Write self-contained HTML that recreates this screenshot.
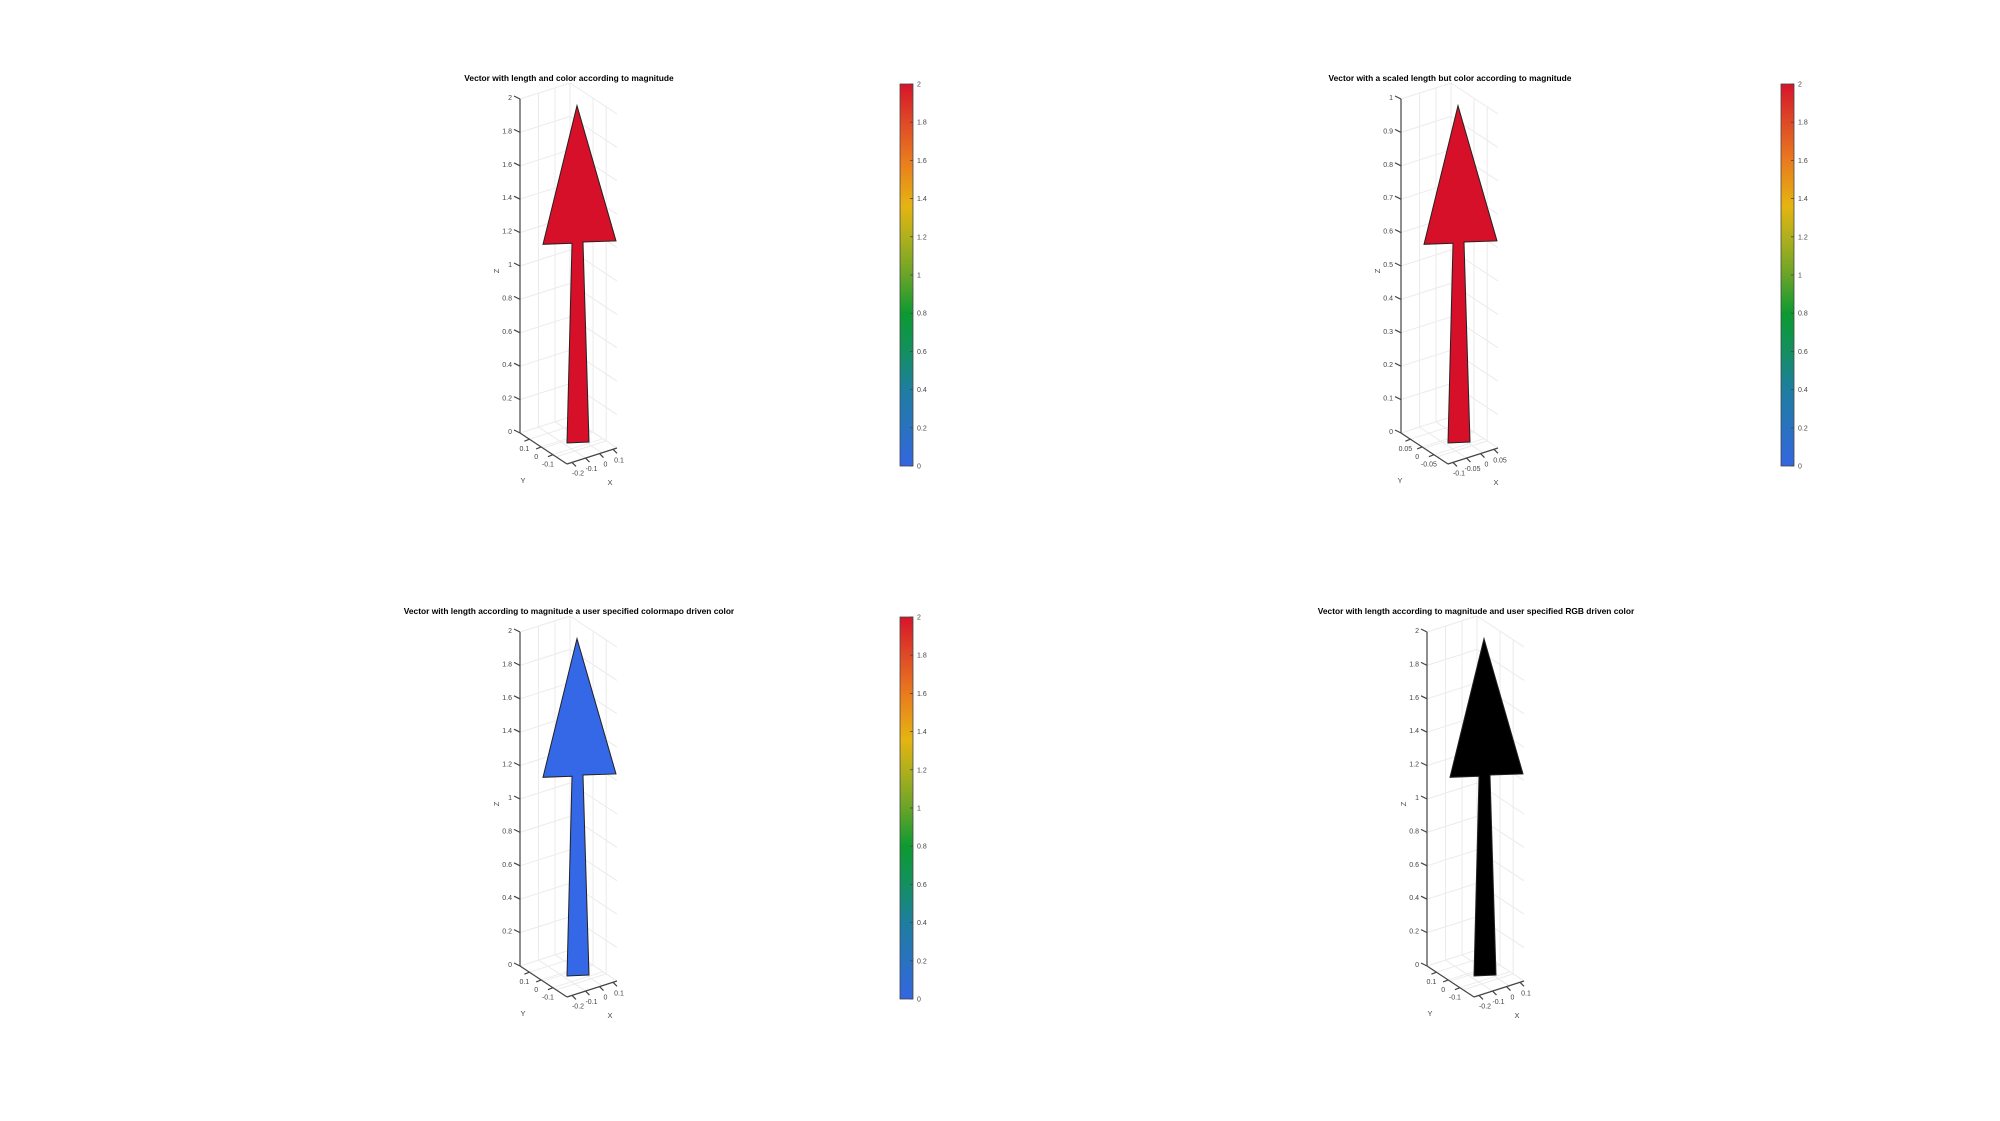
<!DOCTYPE html>
<html><head><meta charset="utf-8"><style>
html,body{margin:0;padding:0;background:#fff;}
svg{display:block;font-family:"Liberation Sans",sans-serif;}
</style></head><body>
<svg id="fig" width="2000" height="1121" viewBox="0 0 2000 1121"></svg>
<script>
const titles=["Vector with length and color according to magnitude","Vector with a scaled length but color according to magnitude","Vector with length according to magnitude a user specified colormapo driven color","Vector with length according to magnitude and user specified RGB driven color"];
const zMax=[2,1,2,2];
const zTicks1=[0,0.2,0.4,0.6,0.8,1,1.2,1.4,1.6,1.8,2];
const zTicks2=[0,0.1,0.2,0.3,0.4,0.5,0.6,0.7,0.8,0.9,1];
const yTickLabels1=["0.1","0","-0.1"];
const xTickLabels1=["-0.2","-0.1","0","0.1"];
const yTickLabels2=["0.05","0","-0.05"];
const xTickLabels2=["-0.1","-0.05","0","0.05"];
const magnitudes=[2,1,2,2];
const arrowColors=["#d7102a","#d7102a","#3468e6","#000000"];
const hasColorbar=[true,true,true,false];
const cbTicks=[0,0.2,0.4,0.6,0.8,1,1.2,1.4,1.6,1.8,2];
const cbLabels=["0","0.2","0.4","0.6","0.8","1","1.2","1.4","1.6","1.8","2"];
// arrow outline: [screen x offset from axis, z as fraction of magnitude]
const arrowX=[57,23,52,47,69,63,96];
const arrowZ=[0.98,0.565,0.568,-0.03,-0.027,0.572,0.575];
const offsets=[[0,0],[881,0],[0,533],[907,533]];

const NS="http://www.w3.org/2000/svg";
const svg=document.getElementById('fig');
function el(tag,attrs,parent){const e=document.createElementNS(NS,tag);for(const k in attrs)e.setAttribute(k,attrs[k]);(parent||svg).appendChild(e);return e;}
function txt(s,attrs,parent){const e=el('text',attrs,parent);e.textContent=s;return e;}

offsets.forEach((off,pi)=>{
  const g=el('g',{transform:`translate(${off[0]},${off[1]})`});
  
  
  const zm=zMax[pi];
  const zs=z=>433-z/zm*334;
  const P=(a,b,z)=>[520+47*a+50*b,433+31*a-16*b-(z/zm)*334];
  const t=txt(titles[pi],{x:569,y:81,'text-anchor':'middle','font-size':8.4,'font-weight':'bold',fill:'#000'},g);
  
  
  const grid=el('g',{stroke:'#ebebeb','stroke-width':1,fill:'none'},g);
  
  
  const ticks=pi===1?zTicks2:zTicks1;
  const line=(p,q,par,c)=>el('line',{x1:p[0],y1:p[1],x2:q[0],y2:q[1],stroke:c||'#ebebeb'},par);
  ticks.forEach(z=>{line(P(0,0,z),P(0,1,z),grid);line(P(0,1,z),P(1,1,z),grid);});
  [0.37,0.7,1].forEach(b=>{line(P(0,b,0),P(0,b,zm),grid);line(P(0,b,0),P(1,b,0),grid);});
  [0.49,0.77].forEach(a=>{line(P(a,1,0),P(a,1,zm),grid);line(P(a,0,0),P(a,1,0),grid);});
  [0.2,0.45,0.7].forEach(a=>line(P(a,0,0),P(a,1,0),grid));
  const ax=el('g',{stroke:'#444','stroke-width':1.2},g);
  
  
  line(P(0,0,0),P(0,0,zm),ax,'#444');
  line(P(0,0,0),P(1,0,0),ax,'#444');
  line(P(1,0,0),P(1,1,0),ax,'#444');
  ticks.forEach((z,i)=>{
    const y=zs(z);
    line([514,y-3],[520,y],ax,'#444');
    const l=txt(String(z),{x:512,y:y+1,'text-anchor':'end','font-size':7,fill:'#444'},g);
    
    
  });
  const yl=pi===1?yTickLabels2:yTickLabels1;
  [0.2,0.45,0.7].forEach((a,i)=>{const p=P(a,0,0);line(p,[p[0]-5,p[1]+2],ax,'#444');
    const l=txt(yl[i],{x:p[0]-5,y:p[1]+12,'text-anchor':'middle','font-size':7,fill:'#444'},g);
    });
  const xl=pi===1?xTickLabels2:xTickLabels1;
  [0.1,0.37,0.65,0.92].forEach((b,i)=>{const p=P(1,b,0);line(p,[p[0]+4,p[1]+4],ax,'#444');
    const l=txt(xl[i],{x:p[0]+6,y:p[1]+13,'text-anchor':'middle','font-size':7,fill:'#444'},g);
    });
  const xL=txt('X',{x:pi===1?615:610,y:485,'text-anchor':'middle','font-size':7.5,fill:'#444'},g);
  
  const yL=txt('Y',{x:pi===1?519:523,y:483,'text-anchor':'middle','font-size':7.5,fill:'#444'},g);
  
  const zL=txt('Z',{x:0,y:0,'text-anchor':'middle','font-size':7.5,fill:'#444',transform:'translate(499,271) rotate(-90)'},g);
  
  const mag=magnitudes[pi];
  const pts=arrowX.map((dx,i)=>[520+dx,zs(arrowZ[i]*mag)]);
  const ar=el('polygon',{points:pts.map(p=>p.join(',')).join(' '),fill:arrowColors[pi],stroke:'#222','stroke-width':1,'stroke-linejoin':'miter'},g);
  
  
  if(hasColorbar[pi]){
    const cb=el('g',{},g);
    
    
    const gid='cbg'+pi;
    const defs=el('defs',{},cb);
    const lg=el('linearGradient',{id:gid,x1:0,y1:1,x2:0,y2:0},defs);
    [[0,'#3466e0'],[0.2,'#1e7ea0'],[0.3,'#139060'],[0.4,'#0c9a30'],[0.5,'#6aa428'],[0.6,'#b0b01c'],[0.68,'#e5b412'],[0.8,'#ea7a1e'],[0.9,'#de4a26'],[1,'#d7142b']].forEach(s=>el('stop',{offset:s[0],'stop-color':s[1]},lg));
    el('rect',{x:900,y:84,width:13,height:382,fill:`url(#${gid})`,stroke:'#444','stroke-width':0.8},cb);
    const cy=v=>466-v/2*382;
    cbTicks.forEach((v,i)=>{
      el('line',{x1:910,y1:cy(v),x2:913,y2:cy(v),stroke:'#444','stroke-width':0.8},cb);
      const l=txt(cbLabels[i],{x:917,y:cy(v)+2.5,'font-size':7,fill:'#444'},cb);
      
      
    });
  }
});
</script>
</body></html>
